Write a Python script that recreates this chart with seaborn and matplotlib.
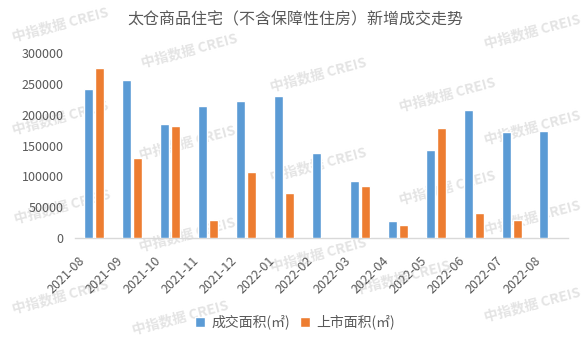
import matplotlib
matplotlib.use("Agg")
import matplotlib.pyplot as plt
import matplotlib.transforms as mtransforms
import seaborn as sns
import pandas as pd

months = ["2021-08", "2021-09", "2021-10", "2021-11", "2021-12", "2022-01", "2022-02",
          "2022-03", "2022-04", "2022-05", "2022-06", "2022-07", "2022-08"]
deal_area = [241000, 256000, 185000, 214000, 222000, 230000, 138000,
             92000, 27600, 143000, 207000, 172000, 173500]
supply_area = [275500, 129500, 181500, 29500, 107000, 73000, 0,
               84000, 21000, 178500, 40500, 29000, 0]
series_names = ["成交面积(㎡)", "上市面积(㎡)"]
yticks = [0, 50000, 100000, 150000, 200000, 250000, 300000]
title = "太仓商品住宅（不含保障性住房）新增成交走势"
watermark = "中指数据 CREIS"

df = pd.DataFrame({
    "月份": months * 2,
    "面积": deal_area + supply_area,
    "指标": [series_names[0]] * len(months) + [series_names[1]] * len(months),
})

sns.set_theme(style="white")
plt.rcParams["font.family"] = ["Noto Sans CJK SC", "DejaVu Sans"]

txt = "#595959"
fig = plt.figure(figsize=(5.84, 3.38), dpi=100)
ax = fig.add_axes([0.1284, 0.296, 0.845, 0.547])
ax.patch.set_alpha(0)
ax.set_zorder(2)

# faint tiled watermark behind the plot
marks = [(60, 25), (189, 51), (318, 75), (532, 32),
         (60, 118), (187, 143), (318, 165), (447, 95), (532, 128),
         (62, 207), (187, 235), (318, 255), (447, 188), (532, 218),
         (60, 297), (180, 318), (402, 278), (532, 305)]
for x, y in marks:
    fig.text(x / 584, 1 - y / 338, watermark, rotation=15, ha="center", va="center",
             fontsize=10, color="#e4e4e4", fontweight="bold", zorder=0)

sns.barplot(data=df, x="月份", y="面积", hue="指标", order=months,
            palette=["#5B9BD5", "#ED7D31"], width=0.58, gap=0.18,
            saturation=1, ax=ax, zorder=3)

ax.set_ylim(0, 300000)
ax.set_xlim(-0.5, len(months) - 0.5)
ax.set_yticks(yticks)
ax.set_yticklabels([str(v) for v in yticks])
ax.set_xlabel("")
ax.set_ylabel("")
for s in ["top", "right", "left"]:
    ax.spines[s].set_visible(False)
ax.spines["bottom"].set_color("#D9D9D9")
ax.spines["bottom"].set_linewidth(1.0)
ax.tick_params(axis="both", length=0, colors=txt, labelsize=9)
ax.tick_params(axis="y", pad=8)
ax.tick_params(axis="x", pad=0)
shift = mtransforms.ScaledTranslation(-11 / 100, -21 / 100, fig.dpi_scale_trans)
for lab in ax.get_xticklabels():
    lab.set_rotation(45)
    lab.set_ha("right")
    lab.set_va("center")
    lab.set_rotation_mode("anchor")
    lab.set_fontsize(9)
    lab.set_transform(lab.get_transform() + shift)

fig.text(0.505, 0.94, title, ha="center", va="center", fontsize=11.5, color=txt)

handles, labels = ax.get_legend_handles_labels()
ax.legend(handles, labels, loc="center", bbox_to_anchor=(0.505, 0.047),
          bbox_transform=fig.transFigure, ncol=2, frameon=False, fontsize=10,
          handlelength=0.75, handleheight=0.75, handletextpad=0.45, columnspacing=0.7,
          labelcolor=txt)

fig.savefig("out.png", dpi=100)
